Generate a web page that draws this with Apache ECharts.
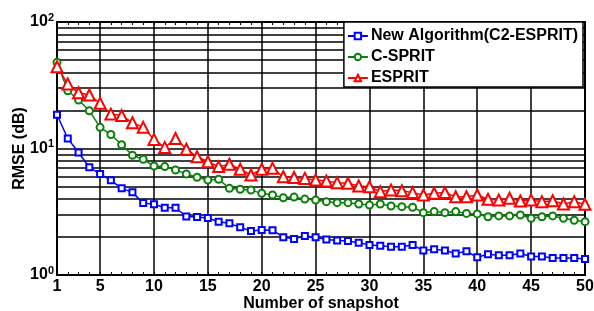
<!DOCTYPE html>
<html>
<head>
<meta charset="utf-8">
<script src="https://cdn.jsdelivr.net/npm/echarts@6/dist/echarts.min.js"></script>
<style>
  html, body { margin: 0; padding: 0; background: #fff; }
  #chart { width: 594px; height: 311px; }
</style>
</head>
<body>
<div id="chart"></div>
<script>
// number of snapshots (x)
const snapshots = [1, 2, 3, 4, 5, 6, 7, 8, 9, 10, 11, 12, 13, 14, 15, 16, 17, 18, 19, 20,
  21, 22, 23, 24, 25, 26, 27, 28, 29, 30, 31, 32, 33, 34, 35, 36, 37, 38, 39, 40,
  41, 42, 43, 44, 45, 46, 47, 48, 49, 50];

// RMSE (dB)
const newAlgo = [18.5, 12.0, 9.3, 7.1, 6.3, 5.6, 4.84, 4.5, 3.7, 3.62, 3.4, 3.4, 2.9, 2.88, 2.82, 2.64, 2.56, 2.38, 2.23, 2.27,
  2.26, 1.99, 1.93, 2.03, 1.99, 1.91, 1.87, 1.86, 1.8, 1.73, 1.7, 1.67, 1.67, 1.73, 1.56, 1.6, 1.56, 1.48, 1.54, 1.38,
  1.46, 1.43, 1.43, 1.48, 1.4, 1.4, 1.36, 1.36, 1.36, 1.34];
const cSprit = [48.0, 28.6, 24.2, 19.9, 14.7, 12.9, 10.7, 8.84, 8.22, 7.27, 7.19, 6.76, 6.3, 5.92, 5.63, 5.71, 4.84, 4.76, 4.69, 4.42,
  4.29, 4.08, 4.13, 3.98, 3.91, 3.8, 3.73, 3.73, 3.64, 3.57, 3.64, 3.51, 3.47, 3.43, 3.11, 3.17, 3.11, 3.17, 3.07, 3.04,
  2.89, 2.93, 2.93, 2.98, 2.81, 2.89, 2.93, 2.81, 2.71, 2.64];
const esprit = [44.3, 32.4, 27.6, 26.5, 22.8, 18.7, 18.2, 16.0, 14.7, 11.8, 10.2, 12.0, 9.86, 8.61, 7.86, 7.19, 7.5, 6.85, 6.17, 6.85,
  6.97, 5.98, 5.9, 5.8, 5.63, 5.53, 5.37, 5.31, 5.05, 4.98, 4.56, 4.69, 4.64, 4.48, 4.29, 4.42, 4.48, 4.16, 4.16, 4.29,
  3.97, 3.91, 4.04, 3.85, 3.91, 3.8, 3.86, 3.64, 3.8, 3.62];

const xLabels = [1, 5, 10, 15, 20, 25, 30, 35, 40, 45, 50];
const yLabels = { 1: '0', 10: '1', 100: '2' }; // exponents of 10
const xGrid = [5, 10, 15, 20, 25, 30, 35, 40, 45];
const yGrid = [2, 3, 4, 5, 6, 7, 8, 9, 20, 30, 40, 50, 60, 70, 80, 90];

const font = 'Liberation Sans, Arial, sans-serif';

const pairs = (ys) => snapshots.map((x, i) => [x, ys[i]]);

const chart = echarts.init(document.getElementById('chart'));

const gridLines = [
  ...xGrid.map(v => ({ xAxis: v })),
  ...yGrid.map(v => ({ yAxis: v }))
];

const option = {
  animation: false,
  backgroundColor: '#fff',
  textStyle: { fontFamily: font },
  grid: {
    left: 57, right: 9, top: 22, bottom: 36,
    outerBoundsMode: 'none',
    containLabel: false,
    show: true, borderColor: '#000', borderWidth: 2, backgroundColor: 'transparent'
  },
  legend: {
    orient: 'vertical',
    right: 11,
    top: 22,
    z: 100,
    backgroundColor: '#fff',
    borderColor: '#000',
    borderWidth: 1.5,
    borderRadius: 0,
    padding: [6, 5, 1, 3],
    itemGap: 5,
    itemWidth: 20,
    itemHeight: 8,
    textStyle: { fontFamily: font, fontSize: 16, fontWeight: 'bold', color: '#000', padding: [0, 0, 0, -2] },
    data: ['New Algorithm(C2-ESPRIT)', 'C-SPRIT', 'ESPRIT']
  },
  xAxis: [{
    type: 'value',
    min: 1, max: 50, interval: 1,
    name: 'Number of snapshot',
    nameLocation: 'middle',
    nameGap: 21,
    nameMoveOverlap: false,
    nameTextStyle: { fontFamily: font, fontSize: 16, fontWeight: 'bold', color: '#000' },
    axisLine: { show: true, lineStyle: { color: '#000', width: 2 } },
    axisTick: { show: true, inside: true, length: 3, lineStyle: { color: '#000' } },
    splitLine: { show: false },
    axisLabel: {
      margin: 4,
      fontFamily: font, fontSize: 16, fontWeight: 'bold', color: '#000',
      formatter: v => xLabels.includes(v) ? String(v) : ''
    }
  }, {
    type: 'value',
    position: 'top',
    min: 1, max: 50, interval: 1,
    axisLine: { show: true, lineStyle: { color: '#000', width: 2 } },
    axisTick: { show: true, inside: true, length: 3, lineStyle: { color: '#000' } },
    axisLabel: { show: false },
    splitLine: { show: false }
  }],
  yAxis: {
    type: 'log',
    logBase: 10,
    min: 1, max: 100,
    name: 'RMSE (dB)',
    nameLocation: 'middle',
    nameGap: 29,
    nameMoveOverlap: false,
    nameTextStyle: { fontFamily: font, fontSize: 16, fontWeight: 'bold', color: '#000' },
    axisLine: { show: true, lineStyle: { color: '#000', width: 2 } },
    axisTick: { show: false },
    splitLine: { show: true, lineStyle: { color: '#000', width: 1.5 } },
    axisLabel: {
      margin: 3,
      formatter: v => '{b|10}{s|' + yLabels[Math.round(v)] + '}',
      rich: {
        b: { fontFamily: font, fontSize: 16, fontWeight: 'bold', color: '#000' },
        s: { fontFamily: font, fontSize: 11, fontWeight: 'bold', color: '#000', padding: [0, 0, 9, 0] }
      }
    }
  },
  series: [{
    type: 'line',
    name: 'grid',
    data: [],
    silent: true,
    z: 1,
    markLine: {
      silent: true,
      symbol: 'none',
      label: { show: false },
      lineStyle: { color: '#000', width: 1.5, type: 'solid' },
      emphasis: { disabled: true },
      data: gridLines
    }
  }, {
    type: 'line',
    name: 'New Algorithm(C2-ESPRIT)',
    data: pairs(newAlgo),
    z: 5,
    color: '#0000ff',
    symbol: 'emptyRect',
    symbolSize: 6,
    lineStyle: { width: 1.5 },
    itemStyle: { borderWidth: 1.5 }
  }, {
    type: 'line',
    name: 'C-SPRIT',
    data: pairs(cSprit),
    z: 5,
    color: '#0a800a',
    symbol: 'emptyCircle',
    symbolSize: 7,
    lineStyle: { width: 1.5 },
    itemStyle: { borderWidth: 1.5 }
  }, {
    type: 'line',
    name: 'ESPRIT',
    data: pairs(esprit),
    z: 5,
    color: '#ff0000',
    symbol: 'emptyTriangle',
    symbolSize: 11,
    lineStyle: { width: 1.5 },
    itemStyle: { borderWidth: 1.5 }
  }]
};

chart.setOption(option);
</script>
</body>
</html>
